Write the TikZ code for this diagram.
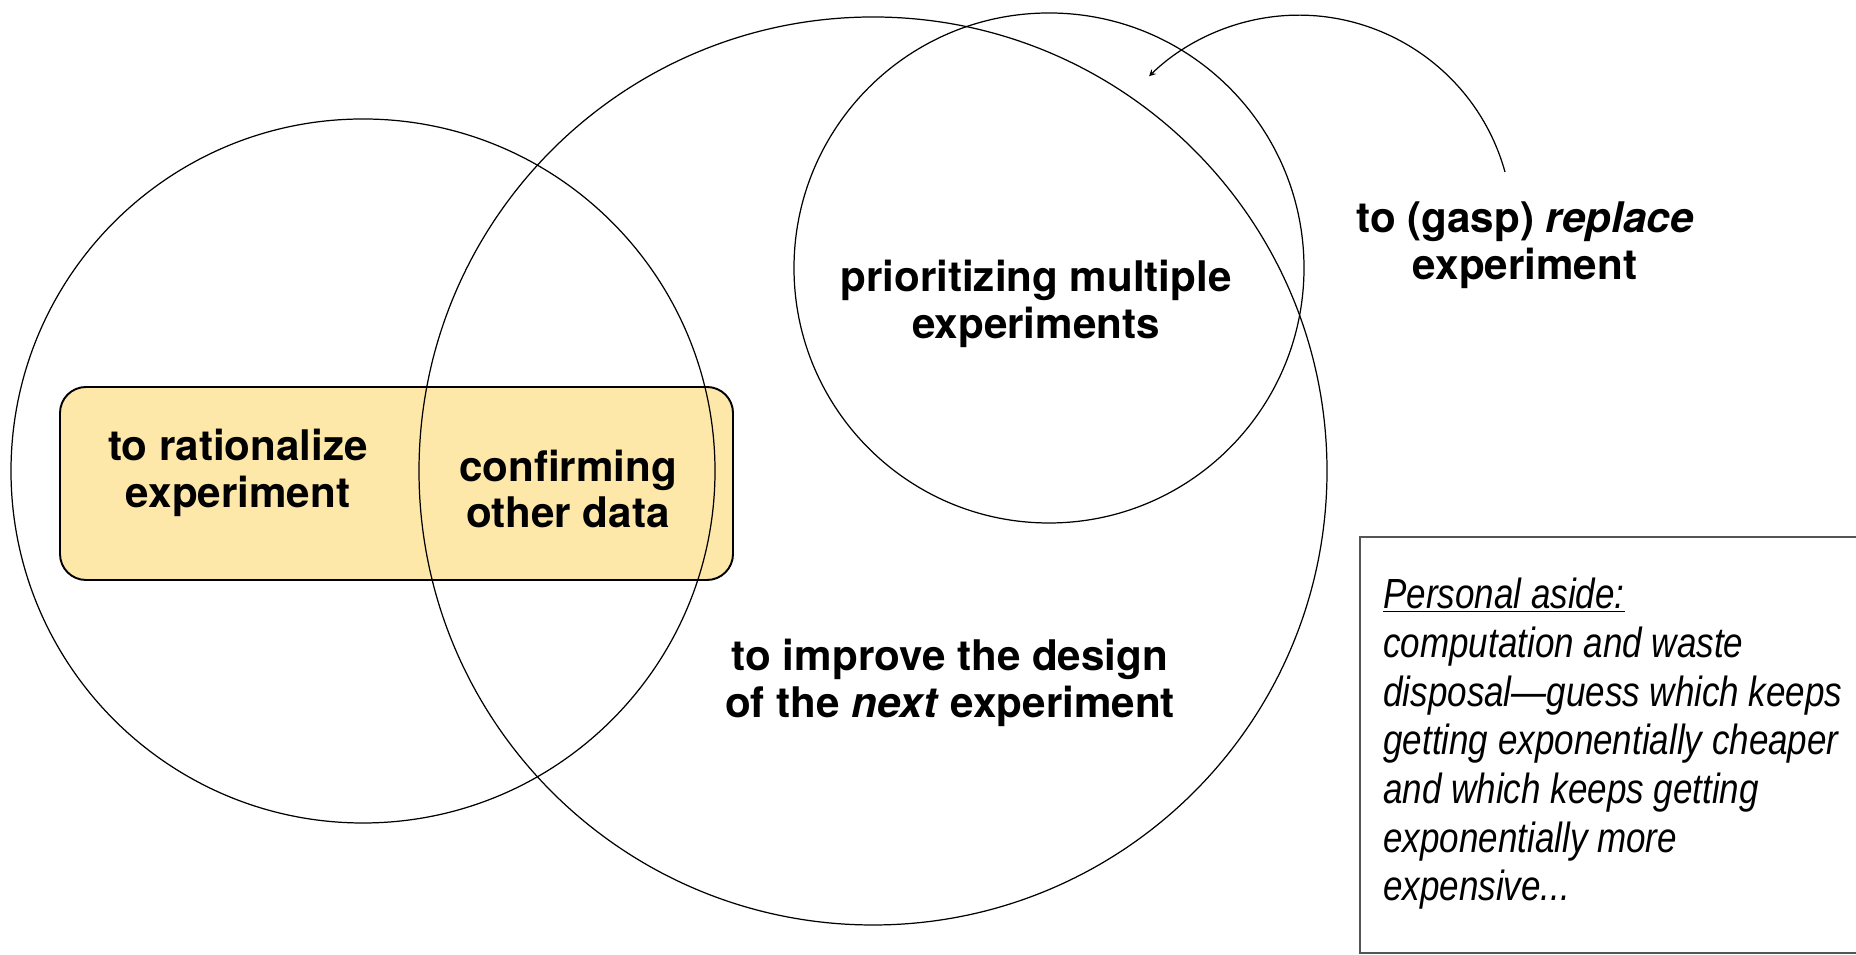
\documentclass[tikz,border=0pt]{standalone}
\usepackage{fontspec}
\setmainfont{TeX Gyre Heros}
\newfontfamily\asidefont[FakeStretch=0.83]{Liberation Sans}
\definecolor{boxyellow}{RGB}{253,232,170}
\definecolor{asidegray}{RGB}{85,85,85}
\begin{document}
\begin{tikzpicture}[x=0.02cm, y=0.02cm, >=stealth,
    ring/.style={draw, line width=0.7pt},
    lbl/.style={align=center, inner sep=0pt, font=\fontsize{24}{26.5}\selectfont\bfseries},
    asidetxt/.style={align=left, anchor=north west, inner sep=0pt, font=\fontsize{24}{27.7}\selectfont\asidefont\itshape}]
    \useasboundingbox (0,0) rectangle (1856,955);

    % 1. 底层黄色圆角条
    \filldraw[fill=boxyellow, line width=1.1pt, rounded corners=0.52cm] (60,375) rectangle (733,568);

    % 2. 三个圆
    \draw[ring] (363,484) circle (352);
    \draw[ring] (873,484) circle (454);
    \draw[ring] (1049,687) circle (255);

    % 3. 圆内文字
    \node[lbl] (rational) at (238,482) {to rationalize\\experiment};
    \node[lbl] (confirm) at (568,466) {confirming\\other data};
    \node[lbl] (priority) at (1036,651) {prioritizing multiple\\experiments};
    \node[lbl] (improve) at (950,272) {to improve the design\\of the \textit{next} experiment};
    \node[lbl] (replace) at (1525,710) {to (gasp) \textit{replace}\\experiment};

    % 4. 回指箭头 (圆弧)
    \coordinate (arcstart) at (1505,783);
    \draw[->, line width=0.7pt] (arcstart) arc[start angle=15.5, end angle=134.4, radius=214];

    % 5. 右下角旁注框
    \draw[asidegray, line width=0.7pt] (1360,2) rectangle (1900,418);
    \node[asidetxt] (aside) at (1383,377) {\underline{Personal aside:}\\
        computation and waste\\
        disposal—guess which keeps\\
        getting exponentially cheaper\\
        and which keeps getting\\
        exponentially more\\
        expensive...};
\end{tikzpicture}
\end{document}
